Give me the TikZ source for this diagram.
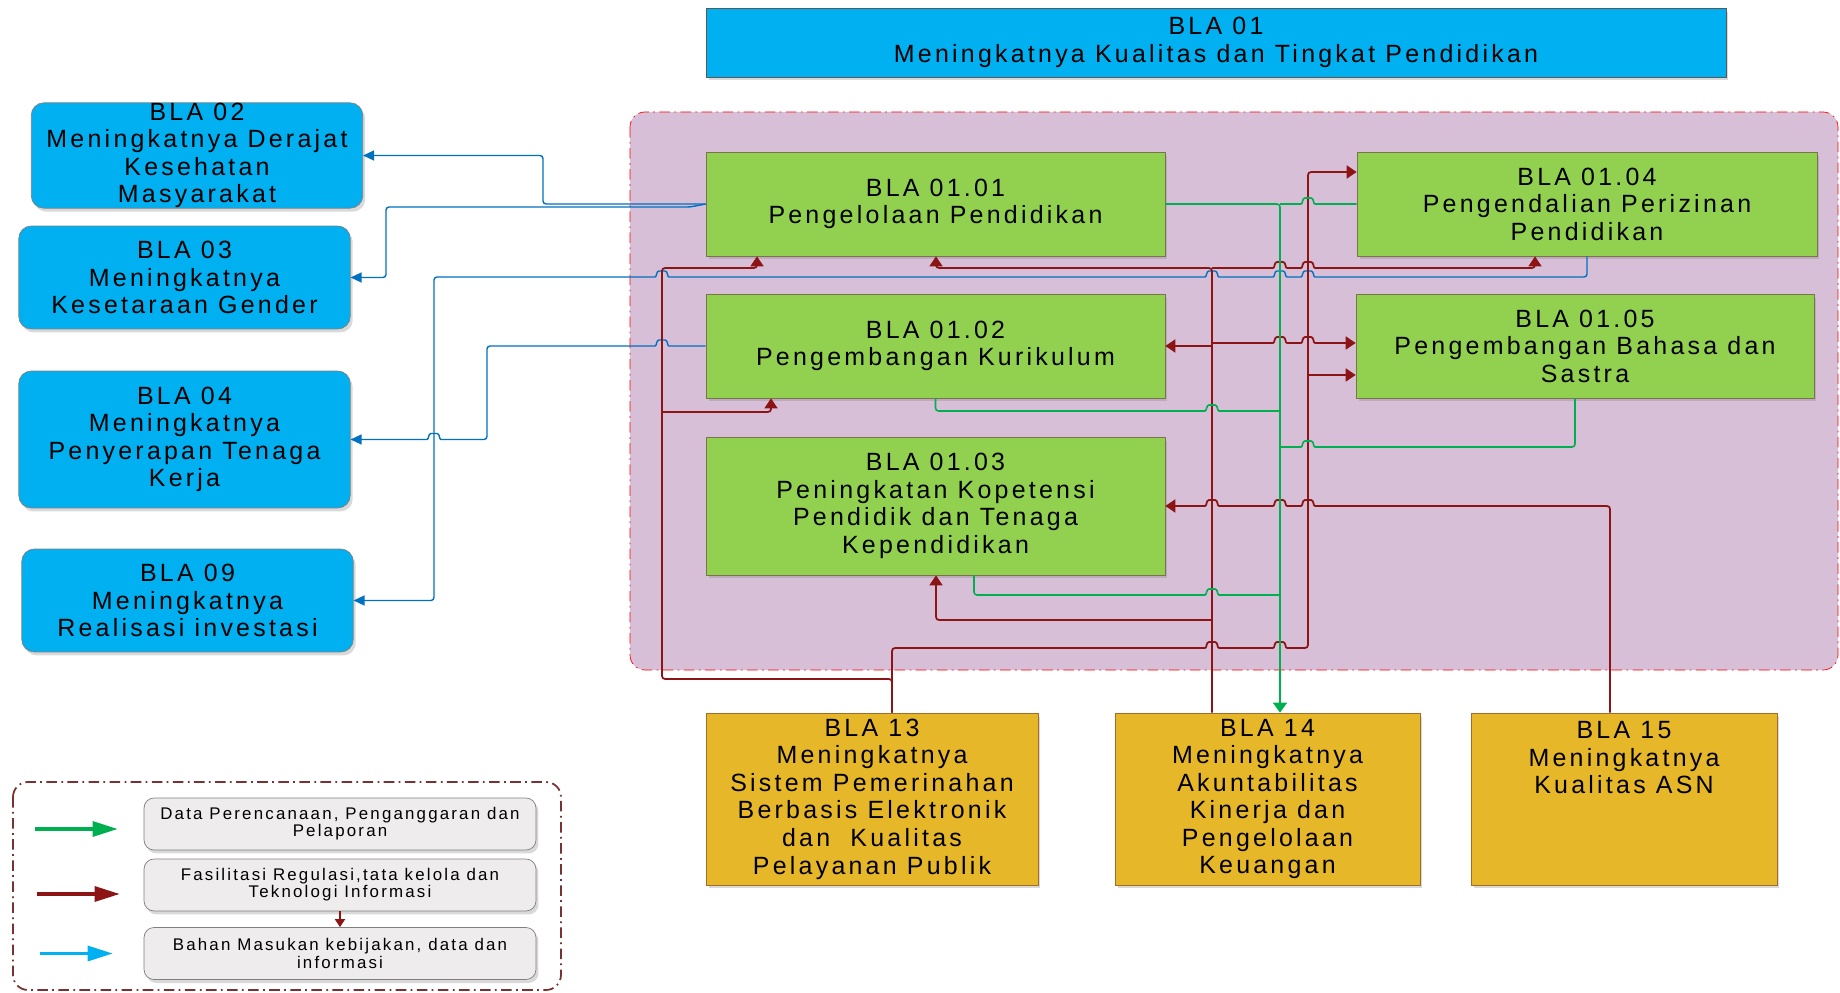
\documentclass[tikz,border=0pt]{standalone}
\usepackage{fontspec}
\setmainfont{Liberation Sans}[LetterSpace=13]
\usepackage{tikz}
\usetikzlibrary{arrows.meta,shadows,calc,positioning}
\definecolor{blacyan}{RGB}{0,176,240}
\definecolor{blagreen}{RGB}{146,208,80}
\definecolor{blagold}{RGB}{230,184,41}
\definecolor{blapurple}{RGB}{216,191,216}
\definecolor{greenedge}{RGB}{125,115,75}
\definecolor{goldedge}{RGB}{160,110,40}
\definecolor{legfill}{RGB}{238,236,236}
\definecolor{legedge}{RGB}{120,50,50}
\definecolor{linkred}{RGB}{140,20,20}
\definecolor{linkblue}{RGB}{0,112,192}
\definecolor{linkgreen}{RGB}{0,176,80}
\newcommand{\bodyfont}{\fontsize{14.2}{15.7}\selectfont}
\newcommand{\legfont}{\fontsize{9.6}{9.8}\selectfont}
% line jumps over a vertical lane (to the right / to the left)
\newcommand{\hopr}[2]{-- ({#1-10},#2) .. controls ({#1-5},#2) and ({#1-6},{#2-6}) .. (#1,{#2-6}) .. controls ({#1+6},{#2-6}) and ({#1+5},#2) .. ({#1+10},#2)}
\newcommand{\hopl}[2]{-- ({#1+10},#2) .. controls ({#1+5},#2) and ({#1+6},{#2-6}) .. (#1,{#2-6}) .. controls ({#1-6},{#2-6}) and ({#1-5},#2) .. ({#1-10},#2)}
\tikzstyle{boxshadow} = [drop shadow={opacity=0.3,shadow xshift=0.05cm,shadow yshift=-0.07cm}]
\tikzstyle{titlebox} = [draw=gray!70!black, fill=blacyan, minimum width=20.4cm, minimum height=1.38cm, align=center, inner sep=0pt, font=\bodyfont, boxshadow]
\tikzstyle{outbox} = [draw=gray, fill=blacyan, rounded corners=0.25cm, minimum width=6.63cm, minimum height=2.06cm, align=center, inner sep=0pt, font=\bodyfont, boxshadow]
\tikzstyle{subbox} = [draw=greenedge, fill=blagreen, minimum width=9.18cm, minimum height=2.08cm, align=center, inner sep=0pt, font=\bodyfont, boxshadow]
\tikzstyle{supbox} = [draw=goldedge, fill=blagold, minimum width=6.1cm, minimum height=3.44cm, align=center, inner sep=0pt, font=\bodyfont, boxshadow]
\tikzstyle{legbox} = [draw=gray, fill=legfill, rounded corners=0.2cm, minimum width=7.84cm, minimum height=1.04cm, align=center, inner sep=0pt, font=\legfont, boxshadow]
\tikzstyle{bline} = [draw=linkblue, line width=0.8pt, rounded corners=0.06cm, -{Triangle[length=0.22cm,width=0.2cm]}]
\tikzstyle{rline} = [draw=linkred, line width=1pt, rounded corners=0.06cm]
\tikzstyle{rarrow} = [rline, -{Triangle[length=0.2cm,width=0.26cm]}]
\tikzstyle{gline} = [draw=linkgreen, line width=0.9pt, rounded corners=0.06cm]
\tikzstyle{garrow} = [gline, -{Triangle[length=0.2cm,width=0.28cm]}]
\tikzstyle{legarrow} = [line width=1.8pt, -{Triangle[length=0.5cm,width=0.3cm]}]

\begin{document}
\begin{tikzpicture}[x=0.02cm,y=-0.02cm]
  \useasboundingbox (0,0) rectangle (1840,993);
  % background areas
  \draw[draw=red, fill=blapurple, dash pattern=on 6pt off 2.5pt on 1pt off 2.5pt, rounded corners=0.3cm] (630,112) rectangle (1838,670);
  \draw[draw=legedge, line width=1pt, dash pattern=on 6pt off 2.5pt on 1pt off 2.5pt, rounded corners=0.3cm] (13,782) rectangle (561,990);

  \node[titlebox] (n01) at (1216,42.5) {BLA 01\\Meningkatnya Kualitas dan Tingkat Pendidikan};

  \node[subbox] (n0101) at (935.5,204) {BLA 01.01\\Pengelolaan Pendidikan};
  \node[subbox] (n0102) at (935.5,346) {BLA 01.02\\Pengembangan Kurikulum};
  \node[subbox, minimum height=2.76cm] (n0103) at (935.5,506) {BLA 01.03\\Peningkatan Kopetensi\\Pendidik dan Tenaga\\Kependidikan};
  \node[subbox, minimum width=9.2cm] (n0104) at (1587,204) {BLA 01.04\\Pengendalian Perizinan\\Pendidikan};
  \node[subbox, minimum width=9.16cm] (n0105) at (1585,346) {BLA 01.05\\Pengembangan Bahasa dan\\Sastra};

  \node[outbox] (n02) at (197,155.5) {BLA 02\\Meningkatnya Derajat\\Kesehatan\\Masyarakat};
  \node[outbox] (n03) at (184.5,277.5) {BLA 03\\Meningkatnya\\Kesetaraan Gender};
  \node[outbox, minimum height=2.74cm] (n04) at (184.5,439.5) {BLA 04\\Meningkatnya\\Penyerapan Tenaga\\Kerja};
  \node[outbox] (n09) at (187.5,600.5) {BLA 09\\Meningkatnya\\Realisasi investasi};

  \node[supbox, minimum width=6.64cm] (n13) at (872,799) {BLA 13\\Meningkatnya\\Sistem Pemerinahan\\Berbasis Elektronik\\dan\ \ Kualitas\\Pelayanan Publik};
  \node[supbox] (n14) at (1267.5,799) {BLA 14\\Meningkatnya\\Akuntabilitas\\Kinerja dan\\Pengelolaan\\Keuangan};
  \node[supbox, minimum width=6.12cm] (n15) at (1624,799) {BLA 15\\Meningkatnya\\Kualitas ASN\\ \mbox{}\\ \mbox{}\\ \mbox{}};

  % blue: input to other BLA
  \draw[bline] (n0101.west) -- (543,204) |- (n02.east);
  \draw[bline] (n0101.west) -- (690,207) -- (386,207) |- (n03.east);
  \draw[bline] (n0104.south) -- (1587,277) \hopl{1308}{277} \hopl{1280}{277} \hopl{1212}{277} \hopl{662}{277} -- (434,277) |- (n09.east);
  \draw[bline] (n0102.west) \hopl{662}{346} -- (487,346) -- (487,439.5) \hopl{434}{439.5} -- (n04.east);

  % red: BLA 13
  \draw[rarrow] ([xshift=0.4cm]n13.north) -- (892,679) -- (662,679) -- (662,268) -- (757,268) -- (757,0 |- n0101.south);
  \draw[rarrow] (662,412) -- (771,412) -- (771,0 |- n0102.south);
  \draw[rarrow] ([xshift=0.4cm]n13.north) -- (892,648) \hopr{1212}{648} \hopr{1280}{648} -- (1308,648) -- (1308,172) -- (n0104.west |- 0,172);
  \draw[rarrow] (1308,375) -- (n0105.west |- 0,375);
  % red: BLA 14
  \draw[rarrow] (1212,0 |- n14.north) -- (1212,268) -- (936,268) -- (936,0 |- n0101.south);
  \draw[rarrow] (1212,268) \hopr{1280}{268} \hopr{1308}{268} -- (1535,268) -- (1535,0 |- n0104.south);
  \draw[rarrow] (1212,346) -- (n0102.east);
  \draw[rarrow] (1212,343) \hopr{1280}{343} \hopr{1308}{343} -- (n0105.west |- 0,343);
  \draw[rarrow] (1212,620) -- (936,620) -- (936,0 |- n0103.south);
  % red: BLA 15
  \draw[rarrow] (1610,0 |- n15.north) -- (1610,506) \hopl{1308}{506} \hopl{1280}{506} \hopl{1212}{506} -- (n0103.east);

  % green: reports to BLA 14
  \draw[garrow] (n0101.east) -- (1280,204) -- (1280,0 |- n14.north);
  \draw[gline] (n0104.west) \hopl{1308}{204} -- (1280,204);
  \draw[gline] (n0102.south) -- (935.5,411) \hopr{1212}{411} -- (1280,411);
  \draw[gline] (974,0 |- n0103.south) -- (974,595) \hopr{1212}{595} -- (1280,595);
  \draw[gline] (1575,0 |- n0105.south) -- (1575,447) \hopl{1308}{447} -- (1280,447);

  % legend
  \node[legbox] (leg1) at (340,824) {Data Perencanaan, Penganggaran dan\\Pelaporan};
  \node[legbox] (leg2) at (340,885) {Fasilitasi Regulasi,tata kelola dan\\Teknologi Informasi};
  \node[legbox] (leg3) at (340,953.5) {Bahan Masukan kebijakan, data dan\\informasi};
  \draw[legarrow, draw=linkgreen] ([xshift=-2.18cm,yshift=-0.1cm]leg1.west) -- ([xshift=-0.52cm,yshift=-0.1cm]leg1.west);
  \draw[legarrow, draw=linkred] ([xshift=-2.14cm,yshift=-0.18cm]leg2.west) -- ([xshift=-0.48cm,yshift=-0.18cm]leg2.west);
  \draw[legarrow, draw=blacyan] ([xshift=-2.08cm]leg3.west) -- ([xshift=-0.62cm]leg3.west);
  \draw[rline, -{Triangle[length=0.16cm,width=0.2cm]}] (leg2) -- (leg3);
\end{tikzpicture}
\end{document}
